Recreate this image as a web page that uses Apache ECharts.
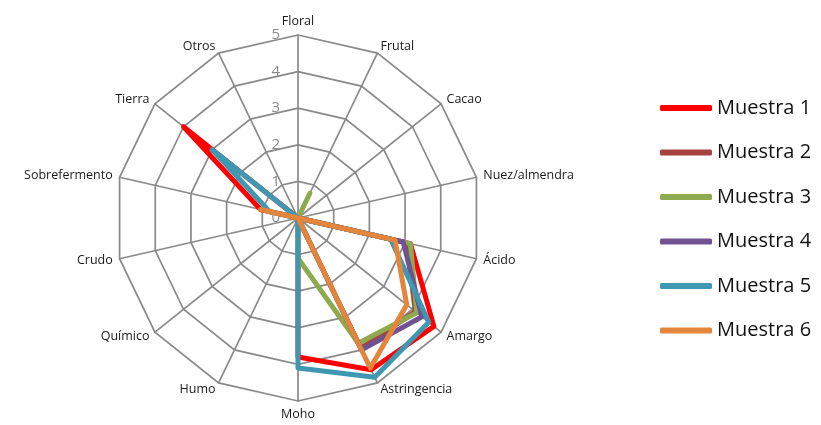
<!DOCTYPE html>
<html><head><meta charset="utf-8">
<script src="https://cdn.jsdelivr.net/npm/echarts@6/dist/echarts.min.js"></script>
<style>html,body{margin:0;padding:0;background:#fff}#c{width:821px;height:425px}</style>
</head><body><div id="c"></div>
<script>
const categories = ['Floral','Frutal','Cacao','Nuez/almendra','Ácido','Amargo','Astringencia','Moho','Humo','Químico','Crudo','Sobrefermento','Tierra','Otros'];
const tickLabels = ['0','1','2','3','4','5'];
const muestra1 = [0, 0,    0, 0, 3.15, 4.75, 4.6,  3.8, 0, 0, 0, 1.05, 4.0, 0];
const muestra2 = [0, 0,    0, 0, 3.05, 4.1,  3.95, 0,   0, 0, 0, 0,    0,   0];
const muestra3 = [0, 0.75, 0, 0, 3.15, 4.15, 3.8,  1.1, 0, 0, 0, 0,    0,   0];
const muestra4 = [0, 0,    0, 0, 2.95, 4.33, 4.0,  0,   0, 0, 0, 0,    0,   0];
const muestra5 = [0, 0,    0, 0, 2.6,  4.57, 4.83, 4.1, 0, 0, 0, 0.8,  3.0, 0];
const muestra6 = [0, 0,    0, 0, 2.72, 3.8,  4.55, 0,   0, 0, 0, 1.05, 0,   0];
const seriesNames = ['Muestra 1','Muestra 2','Muestra 3','Muestra 4','Muestra 5','Muestra 6'];
const seriesValues = [muestra1, muestra2, muestra3, muestra4, muestra5, muestra6];
const colors = ['#ff0000','#a5423f','#8dab4e','#705192','#3f98b2','#e3853a'];

const n = categories.length;
// ECharts places indicators counter-clockwise; reorder so they run clockwise
const order = categories.map((_, k) => (n - k) % n);
const font = '"Open Sans", "Liberation Sans", sans-serif';

const indicator = order.map((i, k) => {
  const o = { name: categories[i], min: 0, max: 5 };
  if (k === 0) o.axisLabel = { show: true };
  return o;
});

const chart = echarts.init(document.getElementById('c'));
chart.setOption({
  animation: false,
  backgroundColor: '#fff',
  legend: {
    orient: 'vertical',
    left: 660, top: 98,
    itemWidth: 52, itemHeight: 6, itemGap: 24.5,
    icon: 'roundRect',
    padding: 0,
    data: seriesNames,
    textStyle: { fontSize: 20, fontFamily: font, color: '#111', lineHeight: 20 }
  },
  radar: {
    center: [298, 218],
    radius: 183,
    shape: 'polygon',
    splitNumber: 5,
    indicator: indicator,
    nameGap: 7,
    axisName: { color: '#1a1a1a', fontSize: 12.5, fontFamily: font },
    axisLine: { lineStyle: { color: '#8a8a8a', width: 1.7 } },
    splitLine: { lineStyle: { color: '#8a8a8a', width: 1.7 } },
    splitArea: { show: false },
    axisTick: { show: false },
    axisLabel: {
      show: false, color: '#8a8a8a', fontSize: 15, fontFamily: font, margin: 18,
      formatter: v => tickLabels[Math.round(v)]
    }
  },
  series: [{
    type: 'radar',
    symbol: 'none',
    data: seriesValues.map((vals, s) => ({
      name: seriesNames[s],
      value: order.map(i => vals[i]),
      lineStyle: { color: colors[s], width: 5 },
      itemStyle: { color: colors[s] }
    }))
  }]
});
</script></body></html>
